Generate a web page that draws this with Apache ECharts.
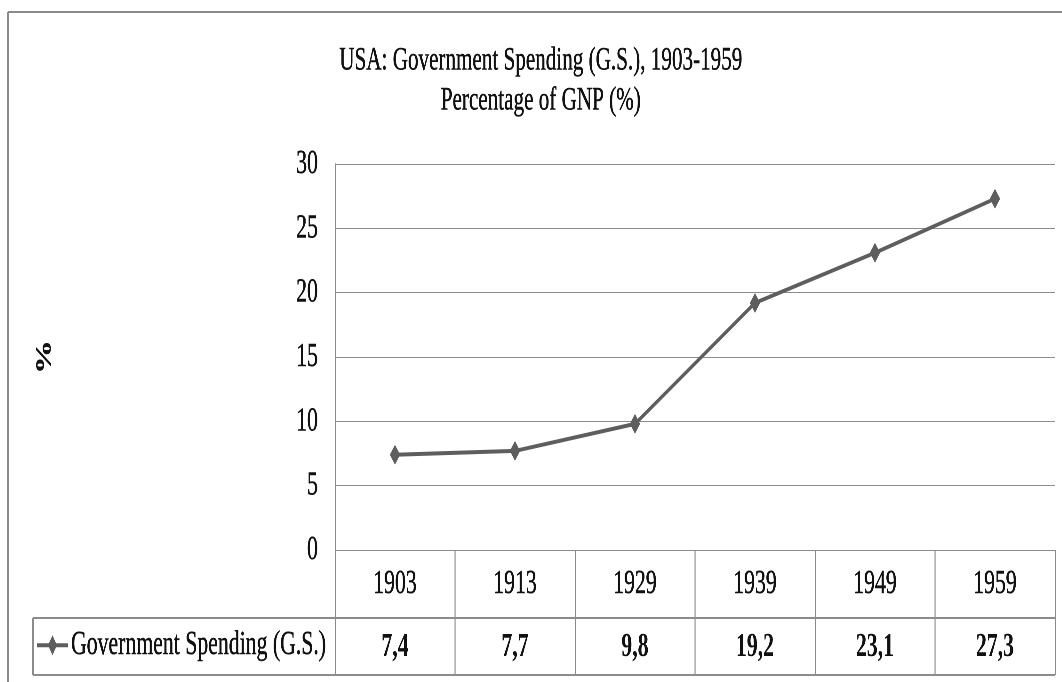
<!DOCTYPE html>
<html lang="en">
<head>
	<meta charset="UTF-8">
	<title>USA Government Spending</title>
	<style>
		*{
			margin: 0;
			padding: 0;
		}
		body{
			width: 1062px;
			height: 682px;
			overflow: hidden;
			background: #fff;
		}
		/* the source picture is squeezed sideways, so draw wide and squeeze */
		#main{
			width: 1660px;
			height: 682px;
			transform: scaleX(0.64);
			transform-origin: 0 0;
		}
	</style>
	<script src="https://cdn.jsdelivr.net/npm/echarts@6/dist/echarts.min.js"></script>
</head>
<body>
	<div id="main"></div>
	<script>
		var years = ['1903', '1913', '1929', '1939', '1949', '1959'];
		var spending = [7.4, 7.7, 9.8, 19.2, 23.1, 27.3];
		var yTicks = [0, 5, 10, 15, 20, 25, 30];

		var font = 'Liberation Serif, Times New Roman, serif';
		var gray = '#8c8c8c';
		var ink = '#111';
		var lineColor = '#5e5e5e';
		var chart = echarts.init(document.getElementById('main'), null, {devicePixelRatio: 2});

		// a faint outline thickens the glyphs a little, like the source
		function txt(size, weight) {
			return {
				fontFamily: font,
				fontSize: size,
				fontWeight: weight || 'normal',
				color: ink,
				textBorderColor: ink,
				textBorderWidth: 0.5
			};
		}

		// legend key: short line with a diamond on it
		var legendIcon = 'path://M0,8 L18.4,8 L24,0 L29.6,8 L48,8 L48,12 L29.6,12 L24,20 L18.4,12 L0,12 Z';

		var option = {
			animation: false,
			backgroundColor: '#fff',
			title: {
				text: 'USA: Government Spending (G.S.), 1903-1959\nPercentage of GNP (%)',
				left: 845,
				top: 41,
				textAlign: 'center',
				padding: 0,
				textStyle: Object.assign(txt(33), {lineHeight: 40})
			},
			legend: {
				data: [{name: 'Government Spending (G.S.)', icon: legendIcon}],
				left: 58,
				top: 628,
				padding: 0,
				itemWidth: 48,
				itemHeight: 20,
				itemGap: 5,
				itemStyle: {color: lineColor},
				textStyle: txt(34)
			},
			grid: {
				left: 523.4,
				right: 11.6,
				top: 164,
				bottom: 132,
				containLabel: false
			},
			xAxis: [
				{
					type: 'category',
					data: years,
					boundaryGap: true,
					axisLine: {show: true, lineStyle: {color: gray, width: 1}},
					axisTick: {show: true, length: 125, lineStyle: {color: gray, width: 1.6}},
					axisLabel: Object.assign(txt(34), {margin: 34, verticalAlign: 'middle'}),
					splitLine: {show: false}
				},
				{
					type: 'category',
					data: years,
					position: 'bottom',
					boundaryGap: true,
					axisLine: {show: false},
					axisTick: {show: false},
					axisLabel: Object.assign(txt(34, 'bold'), {
						margin: 97,
						verticalAlign: 'middle',
						textBorderWidth: 0,
						formatter: function (v, i) {
							return spending[i].toFixed(1).replace('.', ',');
						}
					}),
					splitLine: {show: false}
				}
			],
			yAxis: {
				type: 'value',
				min: yTicks[0],
				max: yTicks[yTicks.length - 1],
				interval: yTicks[1] - yTicks[0],
				name: '%',
				nameLocation: 'middle',
				nameGap: 436,
				nameRotate: 90,
				nameTextStyle: txt(34, 'bold'),
				axisLine: {show: true, lineStyle: {color: gray, width: 1.6}},
				axisTick: {show: false},
				axisLabel: Object.assign(txt(34), {margin: 26.6}),
				splitLine: {lineStyle: {color: gray, width: 1}}
			},
			series: [
				{
					name: 'Government Spending (G.S.)',
					type: 'line',
					data: spending,
					symbol: 'diamond',
					symbolSize: [16, 20],
					color: lineColor,
					itemStyle: {color: lineColor},
					lineStyle: {color: lineColor, width: 4}
				}
			],
			graphic: [
				// outer frame
				{type: 'line', shape: {x1: 12.5, y1: 12, x2: 1660, y2: 12}, style: {stroke: '#8a8a8a', lineWidth: 2}},
				{type: 'line', shape: {x1: 12.5, y1: 12, x2: 12.5, y2: 682}, style: {stroke: '#8a8a8a', lineWidth: 3}},
				// data table rows
				{type: 'line', shape: {x1: 51.6, y1: 618, x2: 1648.4, y2: 618}, style: {stroke: gray, lineWidth: 2}},
				{type: 'line', shape: {x1: 51.6, y1: 675, x2: 1648.4, y2: 675}, style: {stroke: gray, lineWidth: 2}},
				{type: 'line', shape: {x1: 51.6, y1: 618, x2: 51.6, y2: 675}, style: {stroke: gray, lineWidth: 3}}
			]
		};
		chart.setOption(option);
	</script>
</body>
</html>
